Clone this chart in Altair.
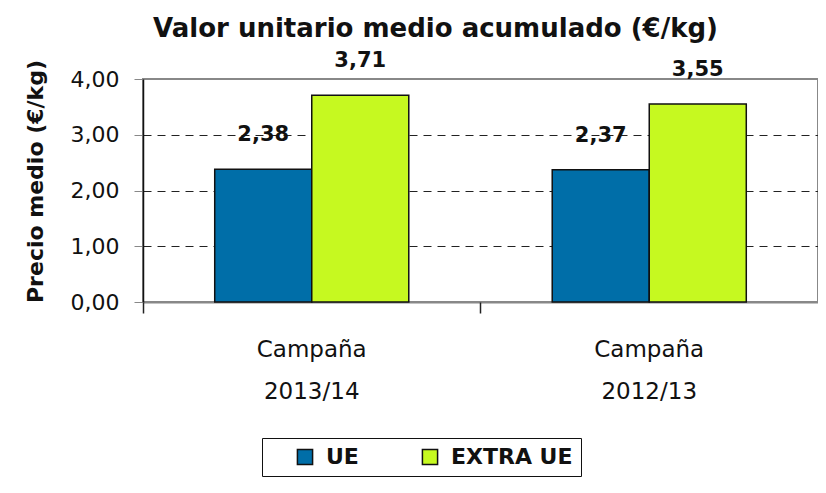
import altair as alt
import pandas as pd

campaigns = ["Campaña 2013/14", "Campaña 2012/13"]
series = ["UE", "EXTRA UE"]
ue_values = [2.38, 2.37]
extra_values = [3.71, 3.55]
colors = ["#006EA8", "#C6F920"]

rows = []
for i, c in enumerate(campaigns):
    rows.append({"campana": c, "serie": "UE", "valor": ue_values[i]})
    rows.append({"campana": c, "serie": "EXTRA UE", "valor": extra_values[i]})
df = pd.DataFrame(rows)

FONT = "DejaVu Sans"

x_enc = alt.X(
    "campana:N",
    sort=campaigns,
    title=None,
    scale=alt.Scale(paddingInner=0.425, paddingOuter=0.2125),
    axis=alt.Axis(
        orient="bottom",
        labelExpr="split(datum.value, ' ')",
        labelAngle=0,
        labelFont=FONT,
        labelFontSize=23,
        labelColor="#111",
        labelLineHeight=42,
        labelPadding=36,
        labelBaseline="top",
        ticks=False,
        domainColor="#888",
        domainWidth=2,
        grid=False,
    ),
)
xoff_enc = alt.XOffset("serie:N", sort=series, scale=alt.Scale(paddingInner=0, paddingOuter=0))

y_enc = alt.Y(
    "valor:Q",
    title="Precio medio (€/kg)",
    scale=alt.Scale(domain=[0, 4], nice=False),
    axis=alt.Axis(
        values=[0, 1, 2, 3, 4],
        labelExpr="replace(format(datum.value, '.2f'), '.', ',')",
        labelFont=FONT,
        labelFontSize=22,
        labelColor="#111",
        labelPadding=15,
        tickSize=9,
        tickColor="#888",
        domainColor="#111",
        domainWidth=1.5,
        grid=True,
        gridColor="#222",
        gridDash=[8, 6],
        gridWidth=1,
        gridOpacity={"condition": {"test": "datum.value == 0 || datum.value == 4", "value": 0}, "value": 1},
        titleFont=FONT,
        titleFontSize=22,
        titleFontWeight="bold",
        titleColor="#111",
        titleX=-108,
        titleY=102,
        titleBaseline="middle",
    ),
)

bars = alt.Chart(df).mark_bar(stroke="#111", strokeWidth=1.5).encode(
    x=x_enc,
    xOffset=xoff_enc,
    y=y_enc,
    color=alt.Color(
        "serie:N",
        sort=series,
        scale=alt.Scale(domain=series, range=colors),
        legend=alt.Legend(
            title=None,
            orient="none",
            direction="horizontal",
            legendX=119,
            legendY=359,
            symbolType="square",
            symbolSize=230,
            symbolStrokeColor="#111",
            symbolStrokeWidth=1.5,
            symbolOffset=24,
            labelFont=FONT,
            labelFontSize=22,
            labelFontWeight="bold",
            labelColor="#111",
            labelOffset=10,
            columnPadding=36,
            padding=8,
            strokeColor="#111",
            fillColor="white",
            labelExpr="datum.label == 'EXTRA UE' ? 'EXTRA UE\u00a0\u00a0' : datum.label",
        ),
    ),
)

labels = alt.Chart(df).mark_text(
    dy=-34, font=FONT, fontSize=21, fontWeight="bold", color="#111", baseline="middle"
).encode(
    x=alt.X(
        "campana:N",
        sort=campaigns,
        title=None,
        axis=alt.Axis(
            orient="bottom",
            labels=False,
            domain=False,
            grid=False,
            ticks=True,
            bandPosition=0,
            tickOffset=-72,
            tickSize=11,
            tickColor="#222",
            tickWidth=1.5,
        ),
    ),
    xOffset=alt.XOffset("serie:N", sort=series),
    y=alt.Y("valor:Q"),
    text=alt.Text("etiqueta:N"),
).transform_calculate(etiqueta="replace(format(datum.valor, '.2f'), '.', ',')")

chart = (
    alt.layer(bars, labels)
    .resolve_axis(x="independent")
    .properties(
        width=675,
        height=223,
        padding={"left": 135, "top": 71, "right": 0, "bottom": 175},
        autosize="none",
        title=alt.TitleParams(
            "Valor unitario medio acumulado (€/kg)",
            font=FONT,
            fontSize=26,
            fontWeight="bold",
            color="#111",
            anchor="middle",
            dx=-45,
            offset=8,
        ),
    )
    .configure_view(stroke="#888", strokeWidth=2)
)

chart.save("out.html", embed_options={"renderer": "svg", "actions": False})
